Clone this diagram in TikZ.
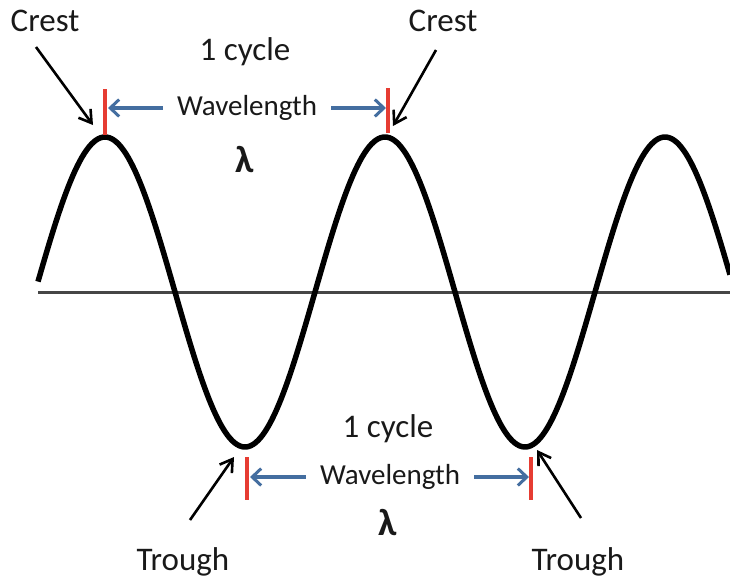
\documentclass[tikz,border=0pt]{standalone}
\usepackage{fontspec}
\setmainfont{Carlito}
\usetikzlibrary{arrows.meta}
\definecolor{wlblue}{RGB}{68,110,160}
\definecolor{tickred}{RGB}{230,60,50}
\definecolor{axisgray}{RGB}{70,70,70}
\definecolor{txt}{RGB}{25,25,25}
\tikzset{
  lbl/.style={font=\fontsize{33}{33}\selectfont, inner sep=0pt, text=txt},
  wl/.style={font=\fontsize{29}{29}\selectfont, inner sep=0pt, text=txt},
  lam/.style={font=\fontsize{38}{38}\selectfont\bfseries, inner sep=0pt, text=txt},
  pointer/.style={line width=2.6pt, -{Straight Barb[length=12pt,width=15pt,line width=2.6pt]}},
  wlarrow/.style={line width=3.6pt, wlblue, -{Straight Barb[length=9pt,width=17pt,line width=3pt]}},
  ticker/.style={line width=3.5pt, tickred},
}
\begin{document}
\begin{tikzpicture}[x=1pt,y=-1pt]
\useasboundingbox (0,0) rectangle (730,582);
% axis
\draw[axisgray, line width=3pt] (38,292) -- (730,292);
% wave
\draw[line width=5.5pt, line join=round] plot[domain=38:730,samples=300] (\x,{292-155*cos((\x-105)*1.2857143)});
% top labels
\node[lbl] (crestL) at (45,21) {Crest};
\node[lbl] (crestR) at (443,21) {Crest};
\node[lbl] (cycT) at (245,52) {1 cycle};
\node[wl] (wlT) at (247,108) {Wavelength};
\node[lam] (lamT) at (245,160) {λ};
% bottom labels
\node[lbl] (cycB) at (388,429) {1 cycle};
\node[wl] (wlB) at (390,477) {Wavelength};
\node[lam] (lamB) at (388,523) {λ};
\node[lbl] (trL) at (183,562) {Trough};
\node[lbl] (trR) at (578,562) {Trough};
% red ticks
\coordinate (tTLa) at (105,89); \coordinate (tTLb) at (105,135);
\coordinate (tTRa) at (388,88); \coordinate (tTRb) at (388,133);
\coordinate (tBLa) at (247,457); \coordinate (tBLb) at (247,500);
\coordinate (tBRa) at (531,457); \coordinate (tBRb) at (531,500);
\draw[ticker] (tTLa) -- (tTLb);
\draw[ticker] (tTRa) -- (tTRb);
\draw[ticker] (tBLa) -- (tBLb);
\draw[ticker] (tBRa) -- (tBRb);
% wavelength arrows
\coordinate (aTL) at (108,108); \coordinate (aTR) at (386,108);
\coordinate (aBL) at (250,477); \coordinate (aBR) at (529,477);
\draw[wlarrow] (wlT.west) ++(-14,0) -- (aTL);
\draw[wlarrow] (wlT.east) ++(14,0) -- (aTR);
\draw[wlarrow] (wlB.west) ++(-14,0) -- (aBL);
\draw[wlarrow] (wlB.east) ++(14,0) -- (aBR);
% pointers
\coordinate (pCL) at (93,125);
\coordinate (pCR) at (393,126);
\coordinate (pTL) at (234,457);
\coordinate (pTR) at (537,450);
\draw[pointer] (36,47) -- (pCL);
\draw[pointer] (436,50) -- (pCR);
\draw[pointer] (190,520) -- (pTL);
\draw[pointer] (581,518) -- (pTR);
\end{tikzpicture}
\end{document}
